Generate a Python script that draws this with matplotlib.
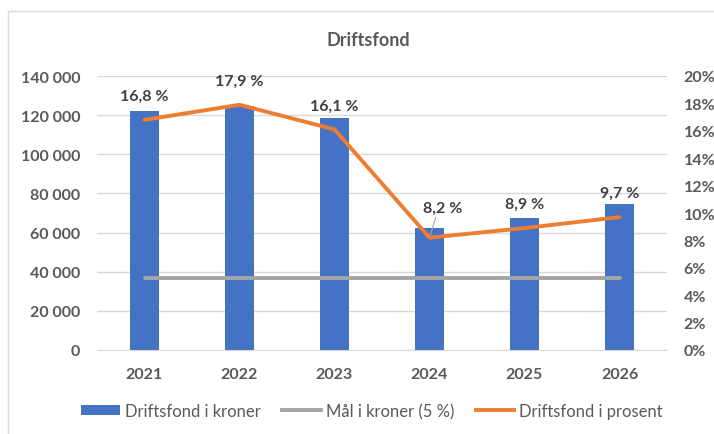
import matplotlib
matplotlib.use("Agg")
import matplotlib.pyplot as plt
from matplotlib.patches import Rectangle, Patch
from matplotlib.lines import Line2D
from matplotlib.ticker import FuncFormatter

years = ["2021", "2022", "2023", "2024", "2025", "2026"]
kroner = [122300, 124500, 118600, 62200, 67600, 74600]
maal = [36800, 36800, 36800, 36800, 36800, 36800]
prosent = [16.8, 17.9, 16.1, 8.2, 8.9, 9.7]
prosent_labels = ["16,8 %", "17,9 %", "16,1 %", "8,2 %", "8,9 %", "9,7 %"]

plt.rcParams['font.family'] = ['Lato', 'DejaVu Sans']
TICK = '#595959'
LBL = '#404040'
BLUE = '#4472C4'
GRAY = '#A5A5A5'
ORANGE = '#ED7D31'

W, H = 714, 435
fig = plt.figure(figsize=(W/100, H/100), dpi=100)
fig.patch.set_facecolor('white')
fig.patches.append(Rectangle((8/W, -0.1), 1.2, 1 - 12/H + 0.1, transform=fig.transFigure,
                             fill=False, edgecolor='#D9D9D9', linewidth=1.0))

ax = fig.add_axes([97/W, 84/H, 570/W, 274/H])
x = list(range(len(years)))
ax.bar(x, kroner, width=0.31, color=BLUE, zorder=2)
ax.plot(x, maal, color=GRAY, linewidth=2.8, solid_capstyle='round', zorder=3)
ax.set_xlim(-0.5, len(years) - 0.5)
ax.set_ylim(0, 140000)
ax.set_yticks(range(0, 140001, 20000))
ax.yaxis.set_major_formatter(FuncFormatter(lambda v, p: f"{int(v):,}".replace(",", " ")))
ax.set_xticks(x)
ax.set_xticklabels(years)
ax.grid(axis='y', color='#D9D9D9', linewidth=1.0, zorder=0)
ax.set_axisbelow(True)
for s in ['top', 'right', 'left']:
    ax.spines[s].set_visible(False)
ax.spines['bottom'].set_color('#D9D9D9')
ax.tick_params(axis='both', length=0, labelcolor=TICK, labelsize=11.5)
ax.tick_params(axis='y', pad=12)
ax.tick_params(axis='x', pad=12)
for t in ax.get_xticklabels() + ax.get_yticklabels():
    t.set_fontweight('bold')

ax2 = ax.twinx()
ax2.plot(x, prosent, color=ORANGE, linewidth=2.8, solid_capstyle='round', zorder=4)
ax2.set_ylim(0, 20)
ax2.set_yticks(range(0, 21, 2))
ax2.yaxis.set_major_formatter(FuncFormatter(lambda v, p: f"{int(v)}%"))
for s in ['top', 'right', 'left', 'bottom']:
    ax2.spines[s].set_visible(False)
ax2.tick_params(axis='y', length=0, labelcolor=TICK, labelsize=11.5, pad=12)
for t in ax2.get_yticklabels():
    t.set_fontweight('bold')

for i, (v, lab) in enumerate(zip(prosent, prosent_labels)):
    if i == 3:
        ax2.annotate(lab, xy=(i, v), xytext=(13, 30), textcoords='offset pixels',
                     ha='center', va='center', fontsize=11.5, fontweight='bold', color=LBL,
                     arrowprops=dict(arrowstyle='-', color='#A6A6A6', lw=0.8,
                                     shrinkA=0, shrinkB=0, relpos=(0.35, 0.0)))
    else:
        ax2.annotate(lab, xy=(i, v), xytext=(0, 24), textcoords='offset pixels',
                     ha='center', va='center', fontsize=11.5, fontweight='bold', color=LBL)

fig.text(368/W, 1 - 41/H, "Driftsfond", ha='center', va='center', fontsize=13,
         fontweight='bold', color=TICK)

handles = [Patch(facecolor=BLUE, edgecolor='none'),
           Line2D([], [], color=GRAY, linewidth=2.8),
           Line2D([], [], color=ORANGE, linewidth=2.8)]
labels = ["Driftsfond i kroner", "Mål i kroner (5 %)", "Driftsfond i prosent"]
leg = fig.legend(handles, labels, loc='center', bbox_to_anchor=(372/W, 1 - 412/H), ncol=3,
                 frameon=False, fontsize=12, handlelength=2.3, handleheight=0.6,
                 handletextpad=0.3, columnspacing=1.3, labelcolor=TICK)

fig.savefig("out.png", dpi=100, facecolor='white')
